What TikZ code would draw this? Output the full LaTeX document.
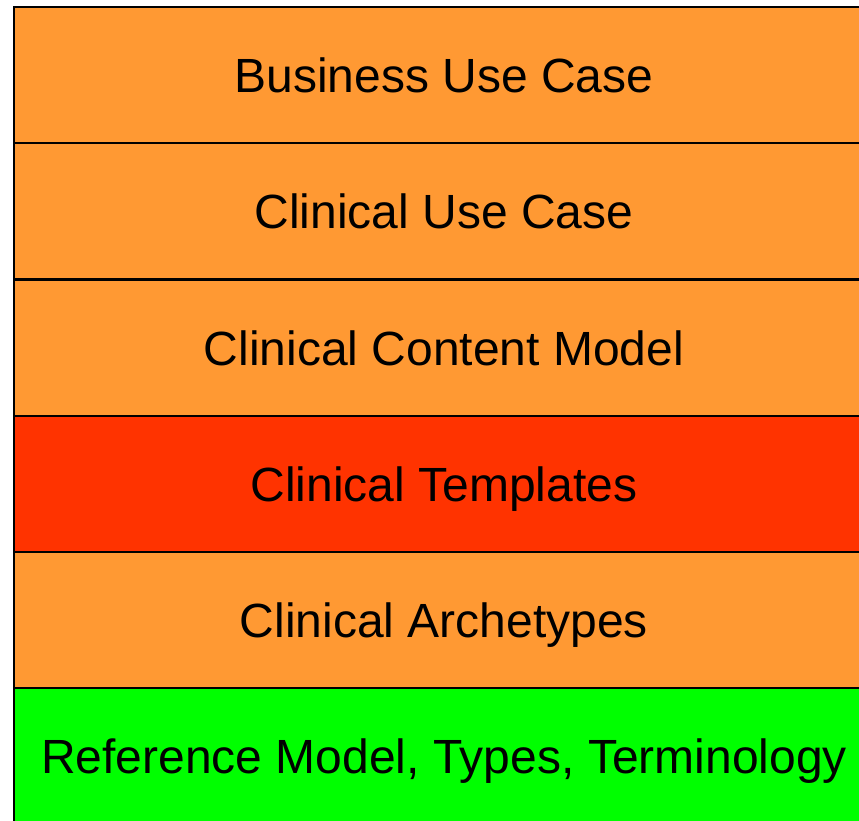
\documentclass[tikz,border=0pt]{standalone}
\usepackage{fontspec}
\setmainfont{Liberation Sans}
\usepackage{tikz}

\definecolor{layerorange}{HTML}{FF9933}
\definecolor{layerred}{HTML}{FF3300}
\definecolor{layergreen}{HTML}{00FF00}

\begin{document}
\begin{tikzpicture}[x=1pt, y=-1pt,
    layer/.style={draw, line width=2pt, minimum width=860pt, minimum height=136pt,
                  inner sep=0pt, text depth=0pt, font=\fontsize{48}{54}\selectfont}]
    \useasboundingbox (0, 0) rectangle (859, 820);
    \clip (0, 0) rectangle (859, 820);
    % layers: business, clinical use, content model
    \node[layer, fill=layerorange] (business) at (444, 75) {Business Use Case};
    \node[layer, fill=layerorange] (usecase) at (444, 211) {Clinical Use Case};
    \node[layer, fill=layerorange] (content) at (444, 348) {Clinical Content Model};
    % layers: templates, archetypes, reference model
    \node[layer, fill=layerred] (templates) at (444, 484) {Clinical Templates};
    \node[layer, fill=layerorange] (archetypes) at (444, 620) {Clinical Archetypes};
    \node[layer, fill=layergreen] (refmodel) at (444, 756) {Reference Model, Types, Terminology};
\end{tikzpicture}
\end{document}
